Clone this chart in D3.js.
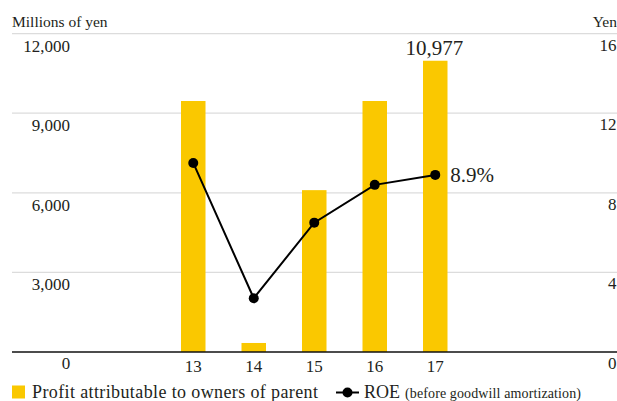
<!DOCTYPE html>
<html>
<head>
<meta charset="utf-8">
<script src="https://cdn.jsdelivr.net/npm/d3@7"></script>
<style>
  html, body { margin: 0; padding: 0; background: #fff; }
  svg { display: block; }
</style>
</head>
<body>
<svg id="chart" width="617" height="401"></svg>
<script>
// Fiscal years (last two digits)
const categories = ["13", "14", "15", "16", "17"];
// Profit attributable to owners of parent, millions of yen
const profitValues = [9460, 340, 6100, 9460, 10977];
// ROE before goodwill amortization, %
const roeValues = [9.5, 2.7, 6.5, 8.4, 8.9];
// Axis ticks
const leftTicks = [0, 3000, 6000, 9000, 12000];
const rightTicks = [0, 4, 8, 12, 16];

// Pick the first installed serif face
function pickFont(list) {
  const ctx = document.createElement("canvas").getContext("2d");
  const sample = "Millions of yen 10,977 Profit";
  for (const f of list) {
    for (const base of ["monospace", "sans-serif"]) {
      ctx.font = `40px ${base}`;
      const w0 = ctx.measureText(sample).width;
      ctx.font = `40px "${f}", ${base}`;
      if (Math.abs(ctx.measureText(sample).width - w0) > 0.5) return `"${f}"`;
    }
  }
  return "serif";
}
const serifFont = pickFont(["Liberation Serif", "Tinos", "Times New Roman", "DejaVu Serif", "Noto Serif", "FreeSerif", "Nimbus Roman", "Georgia"]);

const svg = d3.select("#chart").style("font-family", serifFont + ", serif");
const plotLeft = 12, plotRight = 617, plotTop = 33.6, plotBottom = 352;
const yellow = "#fac800";
const ink = "#231f20";

const yLeft = d3.scaleLinear().domain([0, 12000]).range([plotBottom, plotTop]);
const yRight = d3.scaleLinear().domain([0, 16]).range([plotBottom, plotTop]);
const x = d3.scaleBand().domain(categories).range([163, 465.5])
  .paddingInner(0.595).paddingOuter(0.2975);
const cx = d => x(d) + x.bandwidth() / 2;

// Axis titles
svg.append("text").attr("x", 12).attr("y", 27).attr("font-size", 15.5).attr("fill", ink).text("Millions of yen");
svg.append("text").attr("x", 617).attr("y", 27).attr("font-size", 15.5).attr("fill", ink)
  .attr("text-anchor", "end").text("Yen");

// Horizontal gridlines
svg.append("g").selectAll("line").data(leftTicks.filter(v => v > 0)).join("line")
  .attr("x1", plotLeft).attr("x2", plotRight)
  .attr("y1", d => yLeft(d)).attr("y2", d => yLeft(d))
  .attr("stroke", "#dcdcdc").attr("stroke-width", 1.2);

// Left tick labels
const fmt = d3.format(",");
svg.append("g").selectAll("text").data(leftTicks).join("text")
  .attr("font-size", 17).attr("fill", ink)
  .attr("text-anchor", d => d === 0 ? "middle" : "end")
  .attr("x", d => d === 0 ? 66 : 70)
  .attr("y", d => d === 0 ? 368.5 : yLeft(d) + 18)
  .text(d => fmt(d));

// Right tick labels
svg.append("g").selectAll("text").data(rightTicks).join("text")
  .attr("font-size", 17).attr("fill", ink)
  .attr("text-anchor", "end")
  .attr("x", 616.5)
  .attr("y", d => d === 0 ? 368.5 : yRight(d) + 17)
  .text(d => d);

// Bars
svg.append("g").selectAll("rect").data(categories).join("rect")
  .attr("x", d => x(d))
  .attr("width", x.bandwidth())
  .attr("y", (d, i) => yLeft(profitValues[i]))
  .attr("height", (d, i) => plotBottom - yLeft(profitValues[i]))
  .attr("fill", yellow);

// Baseline
svg.append("line").attr("x1", plotLeft).attr("x2", plotRight)
  .attr("y1", plotBottom).attr("y2", plotBottom)
  .attr("stroke", "#111").attr("stroke-width", 1.6);

// Category labels
svg.append("g").selectAll("text").data(categories).join("text")
  .attr("font-size", 17).attr("fill", ink).attr("text-anchor", "middle")
  .attr("x", d => cx(d)).attr("y", 371.5).text(d => d);

// ROE line
const line = d3.line().x((d, i) => cx(categories[i])).y(d => yRight(d));
svg.append("path").datum(roeValues).attr("d", line)
  .attr("fill", "none").attr("stroke", "#000").attr("stroke-width", 2);
svg.append("g").selectAll("circle").data(roeValues).join("circle")
  .attr("cx", (d, i) => cx(categories[i])).attr("cy", d => yRight(d))
  .attr("r", 5).attr("fill", "#000");

// Value labels for the latest year
const last = categories.length - 1;
svg.append("text").attr("font-size", 21).attr("fill", ink).attr("text-anchor", "middle")
  .attr("x", cx(categories[last]) - 1).attr("y", yLeft(profitValues[last]) - 6)
  .text(fmt(profitValues[last]));
svg.append("text").attr("font-size", 21).attr("fill", ink)
  .attr("x", cx(categories[last]) + 15).attr("y", yRight(roeValues[last]) + 7)
  .text(roeValues[last].toFixed(1) + "%");

// Legend
const lg = svg.append("g");
lg.append("rect").attr("x", 12).attr("y", 385.5).attr("width", 13).attr("height", 13).attr("fill", yellow);
lg.append("text").attr("x", 32).attr("y", 397.5).attr("font-size", 18).attr("fill", ink)
  .attr("textLength", 286).attr("lengthAdjust", "spacing")
  .text("Profit attributable to owners of parent");
lg.append("line").attr("x1", 336).attr("x2", 359).attr("y1", 392.5).attr("y2", 392.5)
  .attr("stroke", "#000").attr("stroke-width", 2);
lg.append("circle").attr("cx", 347.5).attr("cy", 392.5).attr("r", 5).attr("fill", "#000");
lg.append("text").attr("x", 364).attr("y", 397.5).attr("font-size", 18).attr("fill", ink)
  .attr("textLength", 36).attr("lengthAdjust", "spacing").text("ROE");
lg.append("text").attr("x", 405).attr("y", 397.5).attr("font-size", 14).attr("fill", ink)
  .attr("textLength", 176).attr("lengthAdjust", "spacing")
  .text("(before goodwill amortization)");
</script>
</body>
</html>
